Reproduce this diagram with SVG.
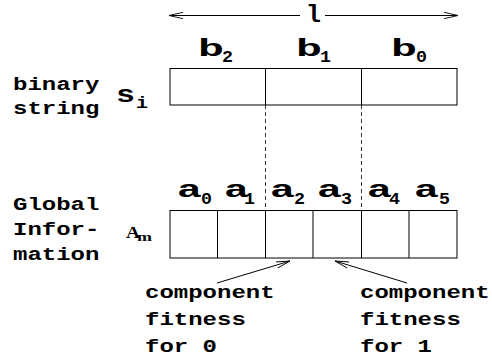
<svg xmlns="http://www.w3.org/2000/svg" width="492" height="358" viewBox="0 0 492 358">
<defs>
<marker id="open" viewBox="0 0 14 8" refX="14" refY="4" markerWidth="14" markerHeight="8" markerUnits="userSpaceOnUse" orient="auto-start-reverse">
<path d="M0,0.8 L14,4 L0,7.2" fill="none" stroke="#000" stroke-width="0.9"/>
</marker>
<style>
.t{font-family:"Liberation Mono","DejaVu Sans Mono",monospace;font-weight:bold;font-size:18px;fill:#000}
.lb{font-family:"Liberation Mono","DejaVu Sans Mono",monospace;font-weight:bold;font-size:23px;fill:#000}
.sb{font-family:"Liberation Mono","DejaVu Sans Mono",monospace;font-weight:bold;font-size:16px;fill:#000}
.sr{font-family:"Liberation Serif","DejaVu Serif",serif;font-weight:bold;fill:#000}
.box{fill:#fff;stroke:#000;stroke-width:1}
.ln{stroke:#000;stroke-width:1;fill:none}
.dash{stroke:#000;stroke-width:0.8;stroke-dasharray:4 3;fill:none}
</style>
</defs>
<rect width="492" height="358" fill="#fff"/>

<g id="length">
<line class="ln" x1="300" y1="15.5" x2="169" y2="15.5" marker-end="url(#open)"/>
<line class="ln" x1="325" y1="15.5" x2="458" y2="15.5" marker-end="url(#open)"/>
<text class="lb" x="306" y="22" textLength="15" lengthAdjust="spacingAndGlyphs">l</text>
</g>

<g id="binary-string">
<rect class="box" x="170" y="68.5" width="287" height="36.5"/>
<line class="ln" x1="265.5" y1="68.5" x2="265.5" y2="105"/>
<line class="ln" x1="361.5" y1="68.5" x2="361.5" y2="105"/>
<text class="lb" x="198" y="56" textLength="26" lengthAdjust="spacingAndGlyphs">b</text>
<text class="sb" x="222" y="62" textLength="11" lengthAdjust="spacingAndGlyphs">2</text>
<text class="lb" x="296" y="56" textLength="26" lengthAdjust="spacingAndGlyphs">b</text>
<text class="sb" x="320" y="62" textLength="11" lengthAdjust="spacingAndGlyphs">1</text>
<text class="lb" x="391" y="56" textLength="26" lengthAdjust="spacingAndGlyphs">b</text>
<text class="sb" x="416" y="62" textLength="11" lengthAdjust="spacingAndGlyphs">0</text>
<text class="lb" x="116" y="102" textLength="19" lengthAdjust="spacingAndGlyphs">s</text>
<text class="sb" x="136" y="108" textLength="12" lengthAdjust="spacingAndGlyphs">i</text>
<text class="t" x="13" y="90" textLength="86.4" lengthAdjust="spacingAndGlyphs">binary</text>
<text class="t" x="13" y="114" textLength="86.4" lengthAdjust="spacingAndGlyphs">string</text>
</g>

<g id="global-info">
<rect class="box" x="170" y="210.5" width="287" height="47.5"/>
<line class="ln" x1="217.5" y1="210.5" x2="217.5" y2="258"/>
<line class="ln" x1="265.5" y1="210.5" x2="265.5" y2="258"/>
<line class="ln" x1="313" y1="210.5" x2="313" y2="258"/>
<line class="ln" x1="361.5" y1="210.5" x2="361.5" y2="258"/>
<line class="ln" x1="409" y1="210.5" x2="409" y2="258"/>
<text class="lb" x="177" y="197" textLength="25" lengthAdjust="spacingAndGlyphs">a</text>
<text class="sb" x="201" y="204" textLength="11" lengthAdjust="spacingAndGlyphs">0</text>
<text class="lb" x="224" y="197" textLength="25" lengthAdjust="spacingAndGlyphs">a</text>
<text class="sb" x="244" y="204" textLength="11" lengthAdjust="spacingAndGlyphs">1</text>
<text class="lb" x="270" y="197" textLength="25" lengthAdjust="spacingAndGlyphs">a</text>
<text class="sb" x="294" y="204" textLength="11" lengthAdjust="spacingAndGlyphs">2</text>
<text class="lb" x="317" y="197" textLength="25" lengthAdjust="spacingAndGlyphs">a</text>
<text class="sb" x="341" y="204" textLength="11" lengthAdjust="spacingAndGlyphs">3</text>
<text class="lb" x="367" y="197" textLength="25" lengthAdjust="spacingAndGlyphs">a</text>
<text class="sb" x="389" y="204" textLength="11" lengthAdjust="spacingAndGlyphs">4</text>
<text class="lb" x="414" y="197" textLength="25" lengthAdjust="spacingAndGlyphs">a</text>
<text class="sb" x="439" y="204" textLength="11" lengthAdjust="spacingAndGlyphs">5</text>
<text class="sr" x="126" y="238" font-size="16" textLength="14" lengthAdjust="spacingAndGlyphs">A</text>
<text class="sr" x="137" y="241" font-size="13" textLength="15" lengthAdjust="spacingAndGlyphs">m</text>
<text class="t" x="13" y="210" textLength="86.4" lengthAdjust="spacingAndGlyphs">Global</text>
<text class="t" x="13" y="235" textLength="86.4" lengthAdjust="spacingAndGlyphs">Infor-</text>
<text class="t" x="13" y="260" textLength="86.4" lengthAdjust="spacingAndGlyphs">mation</text>
</g>

<g id="fitness-0">
<text class="t" x="145" y="298" textLength="129.6" lengthAdjust="spacingAndGlyphs">component</text>
<text class="t" x="145" y="325" textLength="100.8" lengthAdjust="spacingAndGlyphs">fitness</text>
<text class="t" x="145" y="352" textLength="72" lengthAdjust="spacingAndGlyphs">for 0</text>
</g>

<g id="fitness-1">
<text class="t" x="360" y="298" textLength="129.6" lengthAdjust="spacingAndGlyphs">component</text>
<text class="t" x="360" y="325" textLength="100.8" lengthAdjust="spacingAndGlyphs">fitness</text>
<text class="t" x="360" y="352" textLength="72" lengthAdjust="spacingAndGlyphs">for 1</text>
</g>

<g id="connectors">
<line class="dash" x1="265.5" y1="105" x2="265.5" y2="210.5"/>
<line class="dash" x1="361.5" y1="105" x2="361.5" y2="210.5"/>
<line class="ln" x1="217" y1="283" x2="290" y2="261" marker-end="url(#open)"/>
<line class="ln" x1="407" y1="283" x2="335" y2="261" marker-end="url(#open)"/>
</g>
</svg>
